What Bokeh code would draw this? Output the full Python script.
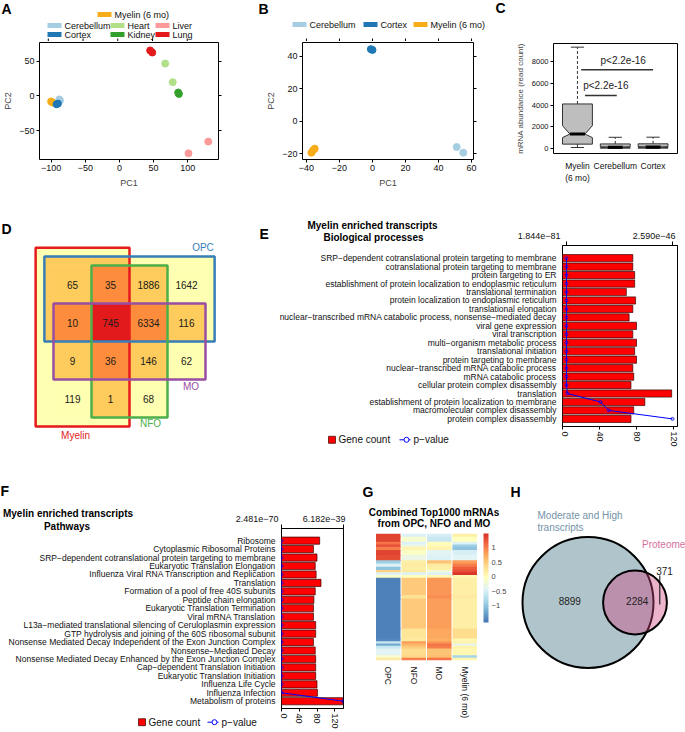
import numpy as np
from bokeh.plotting import figure
from bokeh.models import (Range1d, LinearAxis, FixedTicker, ColumnDataSource,
                          LinearColorMapper, ColorBar)
from bokeh.transform import factor_cmap
from bokeh.layouts import column, row
from bokeh.embed import file_html
from bokeh.resources import INLINE
from bokeh.core.properties import value

FONT = "Liberation Sans"
M = "\u2212"

# ===================== DATA =====================
# A: PCA of all tissues
a_groups = ["Myelin (6 mo)", "Myelin (6 mo)", "Cerebellum", "Cerebellum", "Cortex", "Cortex",
            "Heart", "Heart", "Kidney", "Kidney", "Liver", "Liver", "Lung", "Lung"]
a_pc1 = [-100, -98, -88, -87, -92, -90, 67, 78, 86, 87, 101, 130, 45, 48]
a_pc2 = [-8, -9.5, -5, -6.5, -12, -11, 47, 20, 5, 3, -83, -66, 66, 63]
a_xticks = [-100, -50, 0, 50, 100]
a_yticks = [-50, 0, 50]

# B: PCA of brain samples
b_groups = ["Cerebellum", "Cerebellum", "Cortex", "Cortex",
            "Myelin (6 mo)", "Myelin (6 mo)", "Myelin (6 mo)"]
b_pc1 = [51, 55, -1, 0, -37, -36, -35]
b_pc2 = [-16, -19.5, 44.5, 44, -19.5, -18, -17]
b_xticks = [-40, -20, 0, 20, 40, 60]
b_yticks = [-20, 0, 20, 40]

tissues = ["Myelin (6 mo)", "Cerebellum", "Cortex", "Heart", "Kidney", "Liver", "Lung"]
tissue_colors = ["#F7AD19", "#A6CEE3", "#1F78B4", "#B2DF8A", "#33A02C", "#FB9A99", "#E31A1C"]

# C: mRNA abundance boxplots
c_groups = ["Myelin\n(6 mo)", "Cerebellum", "Cortex"]
c_whisker_low = [90, 0, 0]
c_q1 = [400, 30, 30]
c_notch_low = [1000, 70, 80]
c_median = [1330, 120, 130]
c_notch_high = [2100, 170, 180]
c_q3 = [4100, 420, 430]
c_whisker_high = [9330, 1030, 1040]
c_yticks = [0, 2000, 4000, 6000, 8000]
c_cmp_labels = ["p<2.2e-16", "p<2.2e-16"]
c_cmp_y = [4870, 7240]

# D: overlap of gene sets
d_sets = ["Myelin", "OPC", "NFO", "MO"]
d_counts = [[65, 35, 1886, 1642],
            [10, 745, 6334, 116],
            [9, 36, 146, 62],
            [119, 1, 68, None]]

# E: GO biological processes
e_terms = ["SRP" + M + "dependent cotranslational protein targeting to membrane",
           "cotranslational protein targeting to membrane",
           "protein targeting to ER",
           "establishment of protein localization to endoplasmic reticulum",
           "translational termination",
           "protein localization to endoplasmic reticulum",
           "translational elongation",
           "nuclear" + M + "transcribed mRNA catabolic process, nonsense" + M + "mediated decay",
           "viral gene expression",
           "viral transcription",
           "multi" + M + "organism metabolic process",
           "translational initiation",
           "protein targeting to membrane",
           "nuclear" + M + "transcribed mRNA catabolic process",
           "mRNA catabolic process",
           "cellular protein complex disassembly",
           "translation",
           "establishment of protein localization to membrane",
           "macromolecular complex disassembly",
           "protein complex disassembly"]
e_counts = [76, 76, 78, 78, 69, 79, 76, 72, 80, 76, 80, 78, 80, 76, 77, 74, 118, 89, 77, 74]
e_pvals = [1.844e-81, 4e-80, 6e-80, 2e-79, 5e-78, 1e-77, 4e-77, 9e-76, 2e-75, 5e-75,
           2e-73, 7e-72, 2e-70, 6e-69, 3e-67, 7e-63, 2e-48, 8.3e-47, 1.03e-46, 2.590e-46]

# F: pathways
f_terms = ["Ribosome",
           "Cytoplasmic Ribosomal Proteins",
           "SRP" + M + "dependent cotranslational protein targeting to membrane",
           "Eukaryotic Translation Elongation",
           "Influenza Viral RNA Transcription and Replication",
           "Translation",
           "Formation of a pool of free 40S subunits",
           "Peptide chain elongation",
           "Eukaryotic Translation Termination",
           "Viral mRNA Translation",
           "L13a" + M + "mediated translational silencing of Ceruloplasmin expression",
           "GTP hydrolysis and joining of the 60S ribosomal subunit",
           "Nonsense Mediated Decay Independent of the Exon Junction Complex",
           "Nonsense" + M + "Mediated Decay",
           "Nonsense Mediated Decay Enhanced by the Exon Junction Complex",
           "Cap" + M + "dependent Translation Initiation",
           "Eukaryotic Translation Initiation",
           "Influenza Life Cycle",
           "Influenza Infection",
           "Metabolism of proteins"]
f_counts = [86, 72, 80, 76, 78, 89, 76, 73, 72, 72, 77, 77, 72, 76, 77, 77, 77, 80, 81, 138]
f_pvals = [2.481e-70, 3e-69, 8e-69, 2e-68, 5e-68, 1e-67, 4e-67, 9e-67, 2e-66, 4e-66,
           8e-66, 2e-65, 5e-65, 9e-65, 2e-64, 6e-64, 1e-63, 5e-62, 2e-60, 6.182e-39]

# G: heatmap (row blocks of genes, z-scores per sample)
g_samples = ["OPC", "NFO", "MO", "Myelin (6 mo)"]
g_block_sizes = [26, 39, 21, 18, 26, 40, 40, 26, 26, 26, 18, 21, 21, 137, 26, 237, 79, 21,
                 18, 18, 21, 53, 21, 21]
g_opc = [1.35, 1.35, 1.05, 1.3, 1.0, 1.35, 1.3, -0.9, -0.45, -1.0, 0.45, -0.45, -0.1, -1.5,
         -1.5, -1.5, -1.5, -1.45, -0.6, -1.2, -0.6, -0.4, -0.15, 0.2]
g_nfo = [-0.45, -0.15, -0.45, -0.3, 0.1, -0.1, -0.3, 0.15, 0.2, 0.15, 0.2, -0.45, -0.05, 0.5,
         0.3, 0.5, 0.25, 0.2, 0.8, 0.65, 0.5, 0.35, 0.4, 1.0]
g_mo = [-0.5, -0.6, 0.0, 0.0, 0.1, -0.4, -0.45, 0.55, 0.2, 0.15, -0.2, -0.45, 0.05, 0.85,
        0.9, 0.8, 0.75, 0.7, 0.85, 1.05, 1.0, 0.55, 0.6, 1.05]
g_myelin = [0.15, -0.05, -0.45, -0.9, -1.0, -0.5, -0.4, 0.8, 1.0, 1.2, 1.3, 1.45, 0.05, 0.15,
            0.2, 0.15, 0.35, 0.05, 0.1, -0.35, 0.1, 0.05, -0.85, 0.05]
g_cb_ticks = [-1, -0.5, 0, 0.5, 1]

# H: Venn transcripts vs proteome
h_transcripts_only = 8899
h_both = 2284
h_proteome_only = 371

# ===================== HELPERS =====================


def plot_fig(W, H, xr, yr, fl, fr, ft, fb, xloc="below", yloc="left", outline=True):
    p = figure(width=W, height=H, x_range=xr, y_range=yr, output_backend="svg",
               toolbar_location=None, x_axis_location=xloc, y_axis_location=yloc,
               min_border_left=int(fl), min_border_right=int(W - fr),
               min_border_top=int(ft), min_border_bottom=int(H - fb), frame_align=False)
    p.xgrid.visible = False
    p.ygrid.visible = False
    p.outline_line_color = "black" if outline else None
    p.outline_line_width = 1
    p.background_fill_color = "white"
    p.border_fill_color = "white"
    return p


def flat_fig(W, H, xr=None, yr=None):
    p = figure(width=W, height=H, x_range=xr if xr is not None else Range1d(0, W),
               y_range=yr if yr is not None else Range1d(H, 0), output_backend="svg",
               toolbar_location=None, x_axis_location=None, y_axis_location=None,
               min_border=0, frame_align=False)
    p.grid.visible = False
    p.xgrid.visible = False
    p.ygrid.visible = False
    p.outline_line_color = None
    p.background_fill_color = "white"
    p.border_fill_color = "white"
    return p


def style_ax(ax, size=9, ticks=True):
    ax.axis_line_color = None
    ax.major_tick_line_color = "black" if ticks else None
    ax.major_tick_out = 3
    ax.major_tick_in = 0
    ax.minor_tick_line_color = None
    ax.major_label_text_font = FONT
    ax.major_label_text_font_size = f"{size}px"
    ax.major_label_text_color = "#111111"
    ax.major_label_standoff = 2
    ax.axis_label_text_font = FONT
    ax.axis_label_text_font_style = "normal"
    ax.axis_label_text_font_size = f"{size}px"
    ax.axis_label_standoff = 4


def tick_only_axis(p, side, ticks, out=3, xr_name=None):
    kw = dict(ticker=FixedTicker(ticks=ticks))
    if xr_name:
        kw["x_range_name"] = xr_name
    ax = LinearAxis(**kw)
    style_ax(ax)
    ax.major_tick_out = out
    ax.major_label_text_font_size = "1px"
    ax.major_label_text_color = None
    ax.major_label_standoff = 0
    p.add_layout(ax, side)
    return ax


def gtext(p, xs, ys, texts, size, color="#000000", align="left", bold=False,
          baseline="middle", angle=0.0):
    p.text(x=xs, y=ys, text=texts, text_font=value(FONT), text_font_size=value(f"{size}px"),
           text_font_style=value("bold" if bold else "normal"), text_color=color,
           text_align=align, text_baseline=baseline, angle=angle)


def strip_x(W, fl, fr, x0, x1):
    """x range of a strip sharing the horizontal scale of a plot frame [fl, fr] -> [x0, x1]."""
    u = (x1 - x0) / (fr - fl)
    return x0 - fl * u, x0 + (W - fl) * u, u


tcol = dict(zip(tissues, tissue_colors))

# ===================== ROW 1 (height 200) =====================
R1 = 200
TOP = 41  # height of header strips in row 1


def pca_panel(W, fl, fr, xr_, yr_, groups, pc1, pc2, xticks, yticks, letter_xy, letter,
              legend_rows):
    sx0, sx1, u = strip_x(W, fl, fr, *xr_)
    head = flat_fig(W, TOP, xr=Range1d(sx0, sx1), yr=Range1d(TOP, 0))
    head.segment(x0=xticks, y0=[TOP - 3] * len(xticks), x1=xticks, y1=[TOP] * len(xticks),
                 line_color="black", line_width=1)
    gtext(head, [sx0 + letter_xy[0] * u], [letter_xy[1]], [letter], 14, bold=True)
    for name, (lx, ly) in legend_rows:
        head.quad(left=[sx0 + lx * u], right=[sx0 + (lx + 14) * u], top=[ly - 2.5],
                  bottom=[ly + 2.5], fill_color=tcol[name], line_color=None)
        gtext(head, [sx0 + (lx + 17) * u], [ly], [name], 9, color="#111111")
    H = R1 - TOP
    p = plot_fig(W, H, Range1d(*xr_), Range1d(*yr_), fl, fr, 1, 159 - TOP)
    src = ColumnDataSource(dict(x=pc1, y=pc2, g=groups))
    p.scatter("x", "y", source=src, size=7,
              fill_color=factor_cmap("g", tissue_colors, tissues),
              line_color=factor_cmap("g", tissue_colors, tissues))
    xa = p.below[0]; xa.ticker = FixedTicker(ticks=xticks); xa.axis_label = "PC1"
    ya = p.left[0]; ya.ticker = FixedTicker(ticks=yticks); ya.axis_label = "PC2"
    style_ax(xa); style_ax(ya)
    ya.axis_label_standoff = 3
    tick_only_axis(p, "right", yticks)
    return column(head, p)


a_leg = [("Myelin (6 mo)", (97, 14)),
         ("Cerebellum", (47, 25)), ("Cortex", (47, 34)),
         ("Heart", (110, 25)), ("Kidney", (110, 34)),
         ("Liver", (155, 25)), ("Lung", (155, 34))]
colA = pca_panel(225, 36, 218, (-117, 145), (-92, 77.5), a_groups, a_pc1, a_pc2,
                 a_xticks, a_yticks, (1, 8.5), "A", a_leg)

B_X = 225
b_leg = [("Cerebellum", (292 - B_X, 24)), ("Cortex", (363 - B_X, 24)),
         ("Myelin (6 mo)", (413 - B_X, 24))]
colB = pca_panel(268, 77, 248, (-42.4, 61.2), (-23.7, 48.6), b_groups, b_pc1, b_pc2,
                 b_xticks, b_yticks, (258 - B_X, 8), "B", b_leg)

# ----- C -----
C_W = 192
headC = flat_fig(C_W, TOP)
gtext(headC, [2], [7.5], ["C"], 14, bold=True)
pC = plot_fig(C_W, R1 - TOP, Range1d(0.367, 3.646), Range1d(-462, 9668), 60, 184,
              43 - TOP, 153 - TOP)
c_pos = [1, 2, 3]
hw, nw, cw = 0.395, 0.2, 0.175
xs, ys = [], []
for i, cpos in enumerate(c_pos):
    xs.append([cpos - hw, cpos - hw, cpos - nw, cpos - hw, cpos - hw,
               cpos + hw, cpos + hw, cpos + nw, cpos + hw, cpos + hw])
    ys.append([c_q1[i], c_notch_low[i], c_median[i], c_notch_high[i], c_q3[i],
               c_q3[i], c_notch_high[i], c_median[i], c_notch_low[i], c_q1[i]])
pC.patches(xs, ys, fill_color="#BEBEBE", line_color="#333333", line_width=1)
pC.segment(x0=c_pos, y0=c_q3, x1=c_pos, y1=c_whisker_high, line_color="#333333",
           line_dash="3 2", line_width=1)
pC.segment(x0=c_pos, y0=c_q1, x1=c_pos, y1=c_whisker_low, line_color="#333333",
           line_dash="3 2", line_width=1)
pC.segment(x0=[c - cw for c in c_pos], y0=c_whisker_high, x1=[c + cw for c in c_pos],
           y1=c_whisker_high, line_color="#333333", line_width=1)
pC.segment(x0=[c - cw for c in c_pos], y0=c_whisker_low, x1=[c + cw for c in c_pos],
           y1=c_whisker_low, line_color="#333333", line_width=1)
pC.segment(x0=[c - nw for c in c_pos], y0=c_median, x1=[c + nw for c in c_pos],
           y1=c_median, line_color="black", line_width=3)
cmp_x0 = [c_pos[0] + 0.2, c_pos[0] + 0.1]
cmp_x1 = [c_pos[1] + 0.04, c_pos[2] + 0.0]
pC.segment(x0=cmp_x0, y0=c_cmp_y, x1=cmp_x1, y1=c_cmp_y, line_color="#333333", line_width=1.5)
gtext(pC, [1.75, 2.21], [yy + 900 for yy in c_cmp_y], c_cmp_labels, 10, color="#222222",
      align="center")
xc = pC.below[0]; xc.ticker = FixedTicker(ticks=c_pos)
xc.major_label_overrides = {c_pos[i]: c_groups[i] for i in range(3)}
style_ax(xc, 8.5, ticks=False); xc.major_label_standoff = 4
yc = pC.left[0]; yc.ticker = FixedTicker(ticks=c_yticks)
yc.axis_label = "mRNA abundance (read count)"
style_ax(yc, 7.5); yc.axis_label_text_font_size = "8px"
colC = column(headC, pC)

# ===================== ROW 2 (height 280) =====================
R2 = 280
D_W = 250
pD = flat_fig(D_W, R2)
cell = 38
gx0, gy0 = 53, 65
d_ext = {"Myelin": (-0.47, 2, -0.47, 4.24), "OPC": (-0.24, 4.24, -0.24, 2),
         "NFO": (1, 3, 0, 4), "MO": (0, 4, 1, 3)}
d_line_colors = {"Myelin": "#E41A1C", "OPC": "#377EB8", "NFO": "#4DAF4A", "MO": "#984EA3"}
fill_by_n = {1: "#FFFFB2", 2: "#FECC5C", 3: "#FD8D3C", 4: "#E31A1C"}
xb_ = sorted(set([e[0] for e in d_ext.values()] + [e[1] for e in d_ext.values()] + [1, 2, 3]))
yb_ = sorted(set([e[2] for e in d_ext.values()] + [e[3] for e in d_ext.values()] + [1, 2, 3]))
ql, qr, qt, qb, qc = [], [], [], [], []
for i in range(len(xb_) - 1):
    for j in range(len(yb_) - 1):
        mx = (xb_[i] + xb_[i + 1]) / 2
        my = (yb_[j] + yb_[j + 1]) / 2
        n = sum(1 for e in d_ext.values() if e[0] < mx < e[1] and e[2] < my < e[3])
        if n:
            ql.append(gx0 + xb_[i] * cell); qr.append(gx0 + xb_[i + 1] * cell)
            qt.append(gy0 + yb_[j] * cell); qb.append(gy0 + yb_[j + 1] * cell)
            qc.append(fill_by_n[n])
pD.quad(left=ql, right=qr, top=qt, bottom=qb, fill_color=qc, line_color=qc, line_width=0.5)
for s in d_sets:
    e = d_ext[s]
    pD.quad(left=[gx0 + e[0] * cell], right=[gx0 + e[1] * cell], top=[gy0 + e[2] * cell],
            bottom=[gy0 + e[3] * cell], fill_color=None, line_color=d_line_colors[s],
            line_width=2.5)
tx, ty, tt = [], [], []
for r_i, rowv in enumerate(d_counts):
    for c_i, v in enumerate(rowv):
        if v is not None:
            tx.append(gx0 + (c_i + 0.5) * cell); ty.append(gy0 + (r_i + 0.5) * cell)
            tt.append(str(v))
gtext(pD, tx, ty, tt, 10, color="#1a1a1a", align="center")
d_label_pos = {"OPC": (202.5, 47), "MO": (190.5, 186), "NFO": (150, 223),
               "Myelin": (75, 235)}
for s in d_sets:
    lx, ly = d_label_pos[s]
    gtext(pD, [lx], [ly], [s], 10, color=d_line_colors[s], align="center")
gtext(pD, [1], [28], ["D"], 14, bold=True)


def enrichment_panel(W, H, left_w, frame_w, right_b, top_h, top_b, bot_b, yr_, xr_, terms,
                     counts, pvals, padl, padr, titles, letter_xy, letter, plab_y,
                     plab_left_x, plab_right_x, leg_y, leg_sw_x, leg_p_x):
    n = len(terms)
    pos = list(range(n))
    f_top = top_h + top_b
    f_bot = H - bot_b
    k = (yr_[0] - yr_[1]) / (f_bot - f_top)
    y_top_val = yr_[1] - f_top * k
    y_bot_val = yr_[0] + (H - f_bot) * k

    def yd(cy):
        return y_top_val + cy * k

    left = flat_fig(left_w, H, yr=Range1d(y_bot_val, y_top_val))
    gtext(left, [left_w - 5] * n, pos, terms, 8.5, color="#111111", align="right")
    for (tx_, ty_, t_) in titles:
        gtext(left, [tx_], [yd(ty_)], [t_], 10, bold=True, align="center")
    gtext(left, [letter_xy[0]], [yd(letter_xy[1])], [letter], 14, bold=True)
    pmin, pmax = min(pvals), max(pvals)
    gtext(left, [plab_left_x], [yd(plab_y)], [f"{pmin:.3e}".replace("-", M)], 9,
          color="#111111", align="right")
    left.quad(left=[leg_sw_x], right=[leg_sw_x + 7], top=[yd(leg_y - 3.5)],
              bottom=[yd(leg_y + 3.5)], fill_color="#FF0000", line_color="#3a0000",
              line_width=0.7)
    gtext(left, [leg_sw_x + 10], [yd(leg_y)], ["Gene count"], 10, color="#111111")
    left.line(x=[leg_p_x, leg_p_x + 11], y=[yd(leg_y)] * 2, line_color="#0000FF", line_width=1)
    left.scatter(x=[leg_p_x + 7], y=[yd(leg_y)], size=5, marker="circle", fill_color="white",
                 line_color="#0000FF", line_width=1)
    gtext(left, [leg_p_x + 14], [yd(leg_y)], ["p" + M + "value"], 10, color="#111111")

    rw = W - left_w
    top = flat_fig(rw, top_h)
    gtext(top, [plab_right_x], [plab_y], [f"{pmax:.3e}".replace("-", M)], 9,
          color="#111111", align="right")

    p = plot_fig(rw, H - top_h, Range1d(*xr_), Range1d(*yr_), 1, 1 + frame_w, top_b,
                 H - top_h - bot_b, yloc=None)
    src = ColumnDataSource(dict(y=pos, right=counts, p=pvals))
    p.hbar(y="y", left=0, right="right", height=0.85, source=src,
           fill_color="#FF0000", line_color="#3a0000", line_width=0.7)
    span = pmax - pmin
    p.extra_x_ranges = {"p": Range1d(pmin - span * padl, pmax + span * padr)}
    p.line(x="p", y="y", source=src, x_range_name="p", line_color="#0000FF", line_width=1)
    p.scatter(x="p", y="y", source=src, x_range_name="p", size=3, marker="circle",
              fill_color=None, line_color="#0000FF", line_width=0.8)
    xa_ = p.below[0]
    xa_.ticker = FixedTicker(ticks=[0, 40, 80, 120])
    style_ax(xa_, 9)
    xa_.axis_line_color = "black"
    xa_.major_label_orientation = "vertical"
    ta = tick_only_axis(p, "above", [pmin, pmax], out=4, xr_name="p")
    ta.axis_line_color = "black"
    return row(left, column(top, p))


# ----- E -----
colE = enrichment_panel(
    W=435, H=R2, left_w=311, frame_w=115, right_b=8, top_h=40, top_b=5, bot_b=54,
    yr_=(19.9, -1.5), xr_=(0, 124.3), terms=e_terms, counts=e_counts, pvals=e_pvals,
    padl=4 / 106, padr=5 / 106,
    titles=[(122, 25, "Myelin enriched transcripts"), (123, 37, "Biological processes")],
    letter_xy=(9, 33.7), letter="E", plab_y=35.5, plab_left_x=310, plab_right_x=114,
    leg_y=239.3, leg_sw_x=78, leg_p_x=149)

# ===================== ROW 3 (height 251) =====================
R3 = 251
colF = enrichment_panel(
    W=346, H=R3, left_w=280, frame_w=62, right_b=3, top_h=43, top_b=5, bot_b=23,
    yr_=(19.86, -1.44), xr_=(0, 139.7), terms=f_terms, counts=f_counts, pvals=f_pvals,
    padl=0.0, padr=0.0,
    titles=[(67.5, 33.3, "Myelin enriched transcripts"), (66.5, 46.3, "Pathways")],
    letter_xy=(0, 10), letter="F", plab_y=38.5, plab_left_x=278, plab_right_x=65,
    leg_y=241.7, leg_sw_x=138, leg_p_x=207)

# ----- G -----
G_W, G_TOP = 162, 53
headG = flat_fig(G_W, G_TOP)
gtext(headG, [16], [11.7], ["G"], 14, bold=True)
gtext(headG, [87.5, 87.5], [32, 43], ["Combined Top1000 mRNAs", "from OPC, NFO and MO"],
      10, bold=True, align="center")
edges = np.concatenate([[0], np.cumsum(g_block_sizes)])
n_genes = int(edges[-1])
pG = plot_fig(G_W, R3 - G_TOP, Range1d(0, 4), Range1d(n_genes, 0), 29, 131, 0,
              180 - G_TOP, yloc=None, outline=False)
base_pal = ['#4575b4', '#74add1', '#abd9e9', '#e0f3f8', '#ffffbf', '#fee090', '#fdae61',
            '#f46d43', '#d73027']
rgb = np.array([[int(c[i:i + 2], 16) for i in (1, 3, 5)] for c in base_pal], dtype=float)
pal = []
for t in np.linspace(0, len(base_pal) - 1, 256):
    i0 = int(np.floor(t)); i1 = min(i0 + 1, len(base_pal) - 1); f = t - i0
    c = rgb[i0] * (1 - f) + rgb[i1] * f
    pal.append("#%02x%02x%02x" % tuple(int(round(v)) for v in c))
mapper = LinearColorMapper(palette=pal, low=-1.58, high=1.48)
hl, hr, ht, hb, hv = [], [], [], [], []
for ci, vals in enumerate([g_opc, g_nfo, g_mo, g_myelin]):
    for bi, val in enumerate(vals):
        hl.append(ci + 0.02); hr.append(ci + 0.98)
        ht.append(float(edges[bi]))
        hb.append(float(edges[bi + 1]) + (8 if bi < len(vals) - 1 else 0))
        hv.append(val)
srcG = ColumnDataSource(dict(l=hl, r=hr, t=ht, b=hb, v=hv))
pG.quad(left="l", right="r", top="t", bottom="b", source=srcG,
        fill_color={"field": "v", "transform": mapper}, line_color=None)
xg = pG.below[0]
xg.ticker = FixedTicker(ticks=[0.5, 1.5, 2.5, 3.5])
xg.major_label_overrides = {i + 0.5: s for i, s in enumerate(g_samples)}
style_ax(xg, 8.5, ticks=False)
xg.major_label_standoff = 3
xg.major_label_orientation = -np.pi / 2
cb = ColorBar(color_mapper=mapper, location=(108, 38), width=5, height=89, padding=0,
              margin=0, ticker=FixedTicker(ticks=g_cb_ticks),
              major_label_overrides={t: (f"{t:g}".replace("-", M)) for t in g_cb_ticks},
              major_label_text_font=FONT, major_label_text_font_size="7.5px",
              major_tick_line_color=None, minor_tick_line_color=None, label_standoff=3,
              bar_line_color=None, border_line_color=None, background_fill_alpha=0)
pG.add_layout(cb)
colG = column(headG, pG)

# ----- H -----
H_W = 177
pH = flat_fig(H_W, R3)
k_r = 65.5 / np.sqrt(h_transcripts_only + h_both)
r_big = k_r * np.sqrt(h_transcripts_only + h_both)
r_small = k_r * np.sqrt(h_both + h_proteome_only)
pH.circle(x=[79.5], y=[122], radius=r_big, fill_color="#B0C4CC", line_color="black",
          line_width=2)
pH.circle(x=[126.5], y=[122], radius=r_small, fill_color="#CD437D", fill_alpha=0.4,
          line_color="black", line_width=2)
gtext(pH, [61.3, 128.7, 156], [120, 120, 90],
      [str(h_transcripts_only), str(h_both), str(h_proteome_only)], 10, color="#222222",
      align="center")
pH.segment(x0=[151.3], y0=[95], x1=[151.3], y1=[124], line_color="black", line_width=1)
gtext(pH, [29, 29], [35, 46.7], ["Moderate and High", "transcripts"], 10, color="#7393A7")
gtext(pH, [133.5], [64], ["Proteome"], 10, color="#D5709C")
gtext(pH, [2], [11.7], ["H"], 14, bold=True)

layout = column(row(colA, colB, colC), row(pD, colE), row(colF, colG, pH))
open("out.html", "w").write(file_html(layout, INLINE, "Figure"))
